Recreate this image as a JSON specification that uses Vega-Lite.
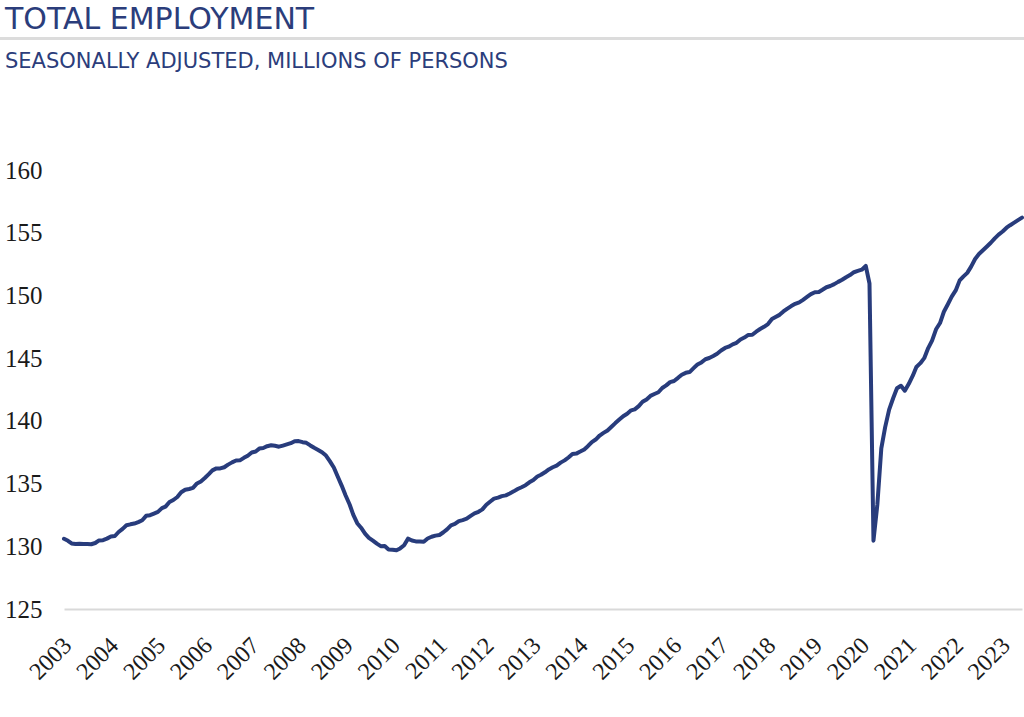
{
  "$schema": "https://vega.github.io/schema/vega-lite/v6.json",
  "width": 958,
  "height": 439,
  "autosize": {"type": "none"},
  "padding": {"left": 64, "top": 170, "right": 2, "bottom": 108},
  "background": "white",
  "title": {
    "text": "TOTAL EMPLOYMENT",
    "subtitle": "SEASONALLY ADJUSTED, MILLIONS OF PERSONS",
    "anchor": "start",
    "frame": "group",
    "dx": -59,
    "offset": -34,
    "font": "DejaVu Sans",
    "fontSize": 30,
    "fontWeight": "normal",
    "color": "#2b3d7b",
    "subtitleFont": "DejaVu Sans",
    "subtitleFontSize": 21,
    "subtitleColor": "#2b3d7b",
    "subtitlePadding": 16
  },
  "config": {
    "view": {"stroke": null},
    "axis": {"labelFont": "Liberation Serif", "labelColor": "#1a1a1a"}
  },
  "data": {
    "values": [
      {"d":"2003-01","v":130.60},{"d":"2003-02","v":130.44},{"d":"2003-03","v":130.23},{"d":"2003-04","v":130.18},{"d":"2003-05","v":130.20},{"d":"2003-06","v":130.18},{"d":"2003-07","v":130.19},{"d":"2003-08","v":130.16},{"d":"2003-09","v":130.26},{"d":"2003-10","v":130.47},{"d":"2003-11","v":130.49},{"d":"2003-12","v":130.61},
      {"d":"2004-01","v":130.78},{"d":"2004-02","v":130.82},{"d":"2004-03","v":131.14},{"d":"2004-04","v":131.39},{"d":"2004-05","v":131.68},{"d":"2004-06","v":131.75},{"d":"2004-07","v":131.81},{"d":"2004-08","v":131.93},{"d":"2004-09","v":132.08},{"d":"2004-10","v":132.43},{"d":"2004-11","v":132.48},{"d":"2004-12","v":132.61},
      {"d":"2005-01","v":132.74},{"d":"2005-02","v":133.04},{"d":"2005-03","v":133.16},{"d":"2005-04","v":133.53},{"d":"2005-05","v":133.69},{"d":"2005-06","v":133.93},{"d":"2005-07","v":134.31},{"d":"2005-08","v":134.51},{"d":"2005-09","v":134.57},{"d":"2005-10","v":134.66},{"d":"2005-11","v":135.01},{"d":"2005-12","v":135.17},
      {"d":"2006-01","v":135.44},{"d":"2006-02","v":135.75},{"d":"2006-03","v":136.05},{"d":"2006-04","v":136.21},{"d":"2006-05","v":136.21},{"d":"2006-06","v":136.30},{"d":"2006-07","v":136.51},{"d":"2006-08","v":136.69},{"d":"2006-09","v":136.84},{"d":"2006-10","v":136.85},{"d":"2006-11","v":137.05},{"d":"2006-12","v":137.22},
      {"d":"2007-01","v":137.48},{"d":"2007-02","v":137.56},{"d":"2007-03","v":137.79},{"d":"2007-04","v":137.84},{"d":"2007-05","v":137.98},{"d":"2007-06","v":138.05},{"d":"2007-07","v":138.01},{"d":"2007-08","v":137.94},{"d":"2007-09","v":138.03},{"d":"2007-10","v":138.12},{"d":"2007-11","v":138.22},{"d":"2007-12","v":138.38},
      {"d":"2008-01","v":138.39},{"d":"2008-02","v":138.30},{"d":"2008-03","v":138.25},{"d":"2008-04","v":138.04},{"d":"2008-05","v":137.85},{"d":"2008-06","v":137.68},{"d":"2008-07","v":137.50},{"d":"2008-08","v":137.23},{"d":"2008-09","v":136.77},{"d":"2008-10","v":136.28},{"d":"2008-11","v":135.54},{"d":"2008-12","v":134.84},
      {"d":"2009-01","v":134.05},{"d":"2009-02","v":133.33},{"d":"2009-03","v":132.53},{"d":"2009-04","v":131.84},{"d":"2009-05","v":131.48},{"d":"2009-06","v":131.01},{"d":"2009-07","v":130.67},{"d":"2009-08","v":130.45},{"d":"2009-09","v":130.21},{"d":"2009-10","v":130.01},{"d":"2009-11","v":130.03},{"d":"2009-12","v":129.75},
      {"d":"2010-01","v":129.73},{"d":"2010-02","v":129.68},{"d":"2010-03","v":129.83},{"d":"2010-04","v":130.08},{"d":"2010-05","v":130.61},{"d":"2010-06","v":130.46},{"d":"2010-07","v":130.39},{"d":"2010-08","v":130.38},{"d":"2010-09","v":130.36},{"d":"2010-10","v":130.62},{"d":"2010-11","v":130.76},{"d":"2010-12","v":130.85},
      {"d":"2011-01","v":130.90},{"d":"2011-02","v":131.12},{"d":"2011-03","v":131.35},{"d":"2011-04","v":131.67},{"d":"2011-05","v":131.78},{"d":"2011-06","v":132.01},{"d":"2011-07","v":132.09},{"d":"2011-08","v":132.20},{"d":"2011-09","v":132.42},{"d":"2011-10","v":132.62},{"d":"2011-11","v":132.75},{"d":"2011-12","v":132.94},
      {"d":"2012-01","v":133.31},{"d":"2012-02","v":133.57},{"d":"2012-03","v":133.80},{"d":"2012-04","v":133.88},{"d":"2012-05","v":134.00},{"d":"2012-06","v":134.06},{"d":"2012-07","v":134.21},{"d":"2012-08","v":134.38},{"d":"2012-09","v":134.57},{"d":"2012-10","v":134.71},{"d":"2012-11","v":134.87},{"d":"2012-12","v":135.10},
      {"d":"2013-01","v":135.28},{"d":"2013-02","v":135.56},{"d":"2013-03","v":135.70},{"d":"2013-04","v":135.90},{"d":"2013-05","v":136.13},{"d":"2013-06","v":136.30},{"d":"2013-07","v":136.43},{"d":"2013-08","v":136.67},{"d":"2013-09","v":136.85},{"d":"2013-10","v":137.08},{"d":"2013-11","v":137.35},{"d":"2013-12","v":137.39},
      {"d":"2014-01","v":137.55},{"d":"2014-02","v":137.72},{"d":"2014-03","v":137.98},{"d":"2014-04","v":138.31},{"d":"2014-05","v":138.51},{"d":"2014-06","v":138.83},{"d":"2014-07","v":139.04},{"d":"2014-08","v":139.23},{"d":"2014-09","v":139.53},{"d":"2014-10","v":139.82},{"d":"2014-11","v":140.10},{"d":"2014-12","v":140.37},
      {"d":"2015-01","v":140.57},{"d":"2015-02","v":140.84},{"d":"2015-03","v":140.92},{"d":"2015-04","v":141.17},{"d":"2015-05","v":141.52},{"d":"2015-06","v":141.71},{"d":"2015-07","v":141.99},{"d":"2015-08","v":142.14},{"d":"2015-09","v":142.28},{"d":"2015-10","v":142.62},{"d":"2015-11","v":142.83},{"d":"2015-12","v":143.09},
      {"d":"2016-01","v":143.18},{"d":"2016-02","v":143.43},{"d":"2016-03","v":143.68},{"d":"2016-04","v":143.83},{"d":"2016-05","v":143.89},{"d":"2016-06","v":144.20},{"d":"2016-07","v":144.49},{"d":"2016-08","v":144.66},{"d":"2016-09","v":144.91},{"d":"2016-10","v":145.01},{"d":"2016-11","v":145.17},{"d":"2016-12","v":145.35},
      {"d":"2017-01","v":145.61},{"d":"2017-02","v":145.81},{"d":"2017-03","v":145.91},{"d":"2017-04","v":146.10},{"d":"2017-05","v":146.22},{"d":"2017-06","v":146.49},{"d":"2017-07","v":146.64},{"d":"2017-08","v":146.85},{"d":"2017-09","v":146.86},{"d":"2017-10","v":147.11},{"d":"2017-11","v":147.32},{"d":"2017-12","v":147.50},
      {"d":"2018-01","v":147.72},{"d":"2018-02","v":148.12},{"d":"2018-03","v":148.28},{"d":"2018-04","v":148.45},{"d":"2018-05","v":148.72},{"d":"2018-06","v":148.95},{"d":"2018-07","v":149.15},{"d":"2018-08","v":149.33},{"d":"2018-09","v":149.45},{"d":"2018-10","v":149.65},{"d":"2018-11","v":149.88},{"d":"2018-12","v":150.10},
      {"d":"2019-01","v":150.25},{"d":"2019-02","v":150.28},{"d":"2019-03","v":150.45},{"d":"2019-04","v":150.65},{"d":"2019-05","v":150.75},{"d":"2019-06","v":150.90},{"d":"2019-07","v":151.08},{"d":"2019-08","v":151.25},{"d":"2019-09","v":151.45},{"d":"2019-10","v":151.62},{"d":"2019-11","v":151.85},{"d":"2019-12","v":151.95},
      {"d":"2020-01","v":152.05},{"d":"2020-02","v":152.35},{"d":"2020-03","v":150.95},{"d":"2020-04","v":130.45},{"d":"2020-05","v":133.30},{"d":"2020-06","v":137.80},{"d":"2020-07","v":139.50},{"d":"2020-08","v":140.90},{"d":"2020-09","v":141.80},{"d":"2020-10","v":142.60},{"d":"2020-11","v":142.80},{"d":"2020-12","v":142.40},
      {"d":"2021-01","v":142.95},{"d":"2021-02","v":143.60},{"d":"2021-03","v":144.30},{"d":"2021-04","v":144.60},{"d":"2021-05","v":145.00},{"d":"2021-06","v":145.80},{"d":"2021-07","v":146.40},{"d":"2021-08","v":147.30},{"d":"2021-09","v":147.80},{"d":"2021-10","v":148.70},{"d":"2021-11","v":149.30},{"d":"2021-12","v":149.90},
      {"d":"2022-01","v":150.40},{"d":"2022-02","v":151.20},{"d":"2022-03","v":151.50},{"d":"2022-04","v":151.80},{"d":"2022-05","v":152.30},{"d":"2022-06","v":152.90},{"d":"2022-07","v":153.30},{"d":"2022-08","v":153.60},{"d":"2022-09","v":153.90},{"d":"2022-10","v":154.20},{"d":"2022-11","v":154.55},{"d":"2022-12","v":154.85},
      {"d":"2023-01","v":155.10},{"d":"2023-02","v":155.40},{"d":"2023-03","v":155.60},{"d":"2023-04","v":155.80},{"d":"2023-05","v":156.00},{"d":"2023-06","v":156.20}
    ]
  },
  "layer": [
    {
      "mark": {"type": "rule", "color": "#dcdcdc", "strokeWidth": 1.5, "clip": false},
      "encoding": {
        "y": {"datum": 170.49, "type": "quantitative"},
        "x": {"datum": {"year": 2001, "month": 8, "date": 18, "utc": true}, "type": "temporal"},
        "x2": {"datum": {"year": 2023, "month": 7, "date": 1, "utc": true}}
      }
    },
    {
      "mark": {"type": "line", "color": "#283c7c", "strokeWidth": 4, "strokeJoin": "round", "strokeCap": "round"},
      "encoding": {
        "x": {
          "field": "d",
          "type": "temporal",
          "scale": {"type": "utc", "domain": [{"year": 2003, "month": 1, "date": 1, "utc": true}, {"year": 2023, "month": 6, "date": 1, "utc": true}]},
          "axis": {
            "title": null,
            "format": "%Y",
            "tickCount": {"interval": "year", "step": 1},
            "labelAngle": -45,
            "labelFontSize": 24,
            "labelPadding": 24,
            "labelOffset": -5,
            "labelOverlap": false,
            "labelFlush": false,
            "ticks": false,
            "grid": false,
            "domain": true,
            "domainColor": "#d9d9d9",
            "domainWidth": 2
          }
        },
        "y": {
          "field": "v",
          "type": "quantitative",
          "scale": {"domain": [125, 160], "nice": false, "zero": false},
          "axis": {
            "title": null,
            "values": [125, 130, 135, 140, 145, 150, 155, 160],
            "labelFontSize": 25,
            "labelPadding": 22,
            "ticks": false,
            "grid": false,
            "domain": false
          }
        }
      }
    }
  ]
}
